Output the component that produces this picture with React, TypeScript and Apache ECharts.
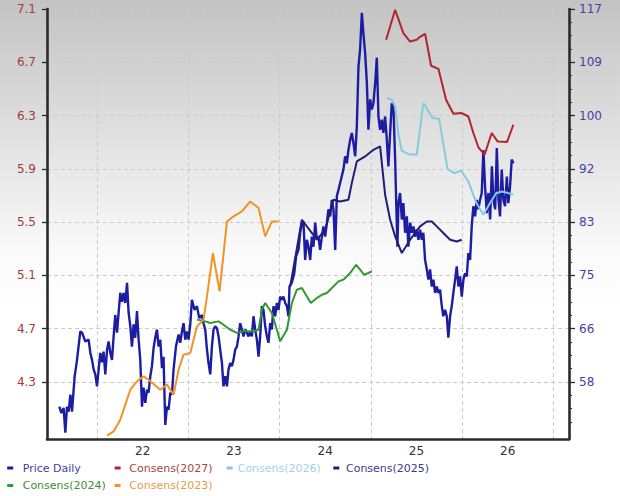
import React, { useEffect, useRef } from "react";
import * as echarts from "echarts";

// ---------- data ----------
const PRICE_DATES = [
  2021.087, 2021.109, 2021.134, 2021.153, 2021.171, 2021.189, 2021.208, 2021.226, 2021.255, 2021.281,
  2021.317, 2021.336, 2021.372, 2021.408, 2021.427, 2021.445, 2021.463, 2021.481, 2021.5, 2021.518,
  2021.536, 2021.555, 2021.572, 2021.591, 2021.61, 2021.627, 2021.646, 2021.664, 2021.682, 2021.7,
  2021.719, 2021.737, 2021.755, 2021.774, 2021.791, 2021.81, 2021.829, 2021.846, 2021.865, 2021.883,
  2021.901, 2021.919, 2021.938, 2021.956, 2021.974, 2021.993, 2022.01, 2022.029, 2022.048, 2022.065,
  2022.084, 2022.102, 2022.12, 2022.138, 2022.157, 2022.175, 2022.193, 2022.212, 2022.229, 2022.248,
  2022.267, 2022.284, 2022.303, 2022.321, 2022.339, 2022.365, 2022.394, 2022.412, 2022.431, 2022.448,
  2022.467, 2022.486, 2022.503, 2022.522, 2022.54, 2022.569, 2022.595, 2022.62, 2022.65, 2022.667,
  2022.686, 2022.705, 2022.722, 2022.741, 2022.759, 2022.777, 2022.795, 2022.814, 2022.832, 2022.85,
  2022.869, 2022.886, 2022.905, 2022.924, 2022.941, 2022.96, 2022.978, 2022.996, 2023.014, 2023.033,
  2023.051, 2023.069, 2023.088, 2023.105, 2023.124, 2023.143, 2023.16, 2023.179, 2023.197, 2023.215,
  2023.233, 2023.252, 2023.27, 2023.288, 2023.307, 2023.324, 2023.343, 2023.362, 2023.379, 2023.398,
  2023.416, 2023.434, 2023.452, 2023.471, 2023.489, 2023.507, 2023.526, 2023.543, 2023.562, 2023.581,
  2023.598, 2023.609, 2023.635, 2023.661, 2023.682, 2023.708, 2023.726, 2023.745, 2023.762, 2023.781,
  2023.8, 2023.817, 2023.836, 2023.854, 2023.872, 2023.891, 2023.909, 2023.927, 2023.945, 2023.964,
  2023.981, 2024.0, 2024.019, 2024.036, 2024.055, 2024.073, 2024.091, 2024.11, 2024.128, 2024.146,
  2024.2, 2024.219, 2024.238, 2024.255, 2024.274, 2024.292, 2024.31, 2024.329, 2024.347, 2024.365,
  2024.383, 2024.402, 2024.419, 2024.438, 2024.457, 2024.474, 2024.493, 2024.511, 2024.529, 2024.548,
  2024.566, 2024.584, 2024.602, 2024.621, 2024.638, 2024.657, 2024.676, 2024.693, 2024.712, 2024.73,
  2024.748, 2024.767, 2024.778, 2024.792, 2024.803, 2024.821, 2024.84, 2024.857, 2024.876, 2024.895,
  2024.912, 2024.931, 2024.95, 2024.968, 2024.985, 2025.004, 2025.022, 2025.04, 2025.059, 2025.076,
  2025.095, 2025.114, 2025.131, 2025.15, 2025.168, 2025.186, 2025.205, 2025.223, 2025.241, 2025.259,
  2025.278, 2025.295, 2025.314, 2025.333, 2025.35, 2025.369, 2025.387, 2025.405, 2025.424, 2025.442,
  2025.46, 2025.478, 2025.497, 2025.515, 2025.533, 2025.552, 2025.569, 2025.588, 2025.606, 2025.624,
  2025.643, 2025.661, 2025.679, 2025.697, 2025.716, 2025.734, 2025.752, 2025.771, 2025.789, 2025.808,
  2025.827, 2025.844, 2025.863, 2025.881, 2025.899, 2025.916, 2025.935, 2025.953, 2025.971, 2025.991,
  2026.007, 2026.026, 2026.044, 2026.063,
];
const PRICE_VALUES = [
  54.1, 53.1, 53.9, 50.0, 54.1, 53.3, 56.0, 53.3, 58.9, 61.5,
  66.0, 65.8, 64.4, 64.7, 62.6, 61.5, 60.0, 59.2, 57.3, 60.0,
  62.6, 61.1, 62.8, 59.2, 63.1, 64.4, 62.6, 61.5, 65.2, 68.6,
  65.8, 69.0, 72.1, 70.7, 72.1, 70.5, 73.7, 69.0, 66.8, 63.6,
  67.1, 65.0, 69.2, 64.7, 61.5, 54.1, 57.1, 54.7, 56.8, 56.3,
  58.9, 60.5, 63.4, 65.0, 66.3, 63.6, 64.7, 60.2, 62.0, 51.2,
  54.1, 53.6, 56.3, 56.0, 60.0, 63.6, 65.5, 64.2, 66.0, 67.3,
  64.7, 66.0, 64.7, 67.1, 71.0, 69.4, 70.0, 68.1, 68.6, 67.3,
  66.3, 63.1, 61.0, 59.2, 63.6, 66.3, 66.8, 66.5, 65.2, 63.1,
  61.0, 57.3, 58.9, 57.3, 60.0, 61.0, 60.5, 61.5, 63.1, 63.6,
  65.2, 67.3, 66.3, 65.2, 66.3, 65.8, 65.2, 66.0, 65.2, 68.4,
  66.3, 64.7, 62.0, 65.2, 70.0, 69.4, 66.8, 65.2, 64.2, 67.3,
  66.3, 70.0, 68.4, 70.5, 69.4, 71.5, 71.0, 71.5, 70.5, 70.0,
  68.4, 73.1, 73.7, 75.2, 77.9, 78.9, 81.6, 83.2, 83.4, 77.3,
  80.5, 79.4, 77.3, 81.0, 79.4, 83.2, 80.5, 81.0, 78.9, 81.0,
  82.6, 81.0, 83.2, 85.3, 84.2, 86.8, 85.3, 78.9, 87.4, 88.4,
  91.6, 93.7, 92.6, 94.7, 96.3, 97.4, 95.8, 93.7, 98.4, 107.9,
  110.6, 116.4, 113.2, 110.0, 105.3, 97.9, 102.7, 101.1, 102.1, 105.3,
  109.3, 100.0, 97.9, 99.5, 97.4, 100.0, 96.3, 92.1, 97.4, 102.1,
  101.6, 93.2, 86.8, 79.4, 86.3, 87.9, 83.7, 86.3, 81.6, 84.2,
  79.4, 83.2, 81.6, 82.6, 81.0, 82.1, 80.5, 82.1, 80.5, 81.6,
  77.3, 75.8, 74.2, 75.8, 73.1, 74.2, 72.1, 73.1, 72.1, 72.6,
  70.0, 68.4, 69.4, 68.4, 65.0, 68.4, 70.0, 72.1, 74.2, 76.3,
  73.1, 74.7, 71.5, 74.2, 75.2, 74.7, 78.4, 77.3, 82.6, 85.8,
  84.2, 86.8, 85.3, 86.8, 87.9, 94.7, 88.9, 84.7, 87.9, 83.7,
  92.1, 86.8, 85.3, 95.0, 86.8, 84.2, 91.6, 86.8, 85.8, 90.5,
  86.3, 88.9, 93.2, 92.6,
];

const C2027_DATES = [2024.668, 2024.767, 2024.857, 2024.931, 2025.004, 2025.04, 2025.095, 2025.161, 2025.241, 2025.325, 2025.405, 2025.497, 2025.569, 2025.624, 2025.679, 2025.747, 2025.825, 2025.889, 2025.993, 2026.062];
const C2027_VALUES = [6.869, 7.094, 6.919, 6.856, 6.869, 6.891, 6.914, 6.674, 6.651, 6.419, 6.314, 6.319, 6.293, 6.169, 6.062, 6.006, 6.169, 6.106, 6.101, 6.231];

const C2026_DATES = [2024.676, 2024.73, 2024.767, 2024.803, 2024.84, 2024.912, 2025.004, 2025.076, 2025.177, 2025.248, 2025.341, 2025.413, 2025.489, 2025.566, 2025.654, 2025.734, 2025.807, 2025.873, 2025.935, 2026.007, 2026.062];
const C2026_VALUES = [6.431, 6.419, 6.368, 6.156, 6.036, 6.01, 6.006, 6.394, 6.281, 6.276, 5.901, 5.868, 5.886, 5.811, 5.649, 5.556, 5.643, 5.717, 5.73, 5.718, 5.706];

const C2025_DATES = [2023.617, 2023.745, 2023.909, 2024.0, 2024.091, 2024.164, 2024.255, 2024.292, 2024.347, 2024.438, 2024.529, 2024.602, 2024.657, 2024.712, 2024.767, 2024.84, 2024.931, 2025.04, 2025.114, 2025.168, 2025.223, 2025.295, 2025.369, 2025.442, 2025.497];
const C2025_VALUES = [5.017, 5.518, 5.368, 5.443, 5.668, 5.655, 5.668, 5.793, 5.956, 5.993, 6.043, 6.068, 5.706, 5.518, 5.393, 5.268, 5.368, 5.468, 5.505, 5.505, 5.468, 5.418, 5.368, 5.355, 5.368];

const C2024_DATES = [2022.595, 2022.686, 2022.741, 2022.832, 2022.886, 2022.96, 2023.033, 2023.105, 2023.215, 2023.27, 2023.307, 2023.343, 2023.416, 2023.471, 2023.507, 2023.581, 2023.635, 2023.69, 2023.745, 2023.8, 2023.843, 2023.909, 2023.964, 2024.019, 2024.073, 2024.146, 2024.2, 2024.274, 2024.339, 2024.383, 2024.427, 2024.474, 2024.511];
const C2024_VALUES = [4.768, 4.755, 4.743, 4.755, 4.73, 4.692, 4.668, 4.68, 4.68, 4.692, 4.843, 4.893, 4.818, 4.692, 4.605, 4.692, 4.893, 4.993, 5.005, 4.942, 4.893, 4.93, 4.955, 4.968, 5.005, 5.055, 5.068, 5.118, 5.18, 5.143, 5.105, 5.118, 5.13];

const C2023_DATES = [2021.61, 2021.682, 2021.755, 2021.865, 2021.938, 2022.01, 2022.065, 2022.193, 2022.267, 2022.339, 2022.394, 2022.448, 2022.522, 2022.595, 2022.667, 2022.705, 2022.77, 2022.843, 2022.924, 2022.996, 2023.088, 2023.179, 2023.27, 2023.343, 2023.416, 2023.489];
const C2023_VALUES = [3.897, 3.929, 4.017, 4.242, 4.305, 4.342, 4.317, 4.242, 4.28, 4.205, 4.392, 4.505, 4.518, 4.717, 4.768, 4.942, 5.268, 4.98, 5.505, 5.543, 5.58, 5.655, 5.606, 5.393, 5.505, 5.505];

// axes
const LEFT_TICKS = [4.3, 4.7, 5.1, 5.5, 5.9, 6.3, 6.7, 7.1];
const YEAR_LABELS = [2022, 2023, 2024, 2025, 2026];
const YEAR_GRID = [2021.5, 2022.5, 2023.5, 2024.5, 2025.5, 2026.5];
const LEFT_MIN = 3.872;
const LEFT_MAX = 7.1;
const X_MIN = 2020.952;
const X_MAX = 2026.672;
// price axis is a linear re-scaling of the EPS axis: 4.3 -> 58, 7.1 -> 117
const PRICE_AT_LOW = 58;
const PRICE_AT_HIGH = 117;

const toPrice = (v: number) =>
  PRICE_AT_LOW + ((v - LEFT_TICKS[0]) * (PRICE_AT_HIGH - PRICE_AT_LOW)) / (LEFT_TICKS[LEFT_TICKS.length - 1] - LEFT_TICKS[0]);

const zip = (xs: number[], ys: number[]) => xs.map((x, i) => [x, ys[i]]);

const FONT = "DejaVu Sans";

const SERIES = [
  { name: "Price Daily", dates: PRICE_DATES, values: PRICE_VALUES, color: "#1d1da3", text: "#3f3f9f", width: 2.4, axis: 1 },
  { name: "Consens(2027)", dates: C2027_DATES, values: C2027_VALUES, color: "#b3252a", text: "#a84444", width: 2, axis: 0 },
  { name: "Consens(2026)", dates: C2026_DATES, values: C2026_VALUES, color: "#86cadc", text: "#a3d3e3", width: 2, axis: 0 },
  { name: "Consens(2025)", dates: C2025_DATES, values: C2025_VALUES, color: "#1f1f78", text: "#3c3c8c", width: 2, axis: 0 },
  { name: "Consens(2024)", dates: C2024_DATES, values: C2024_VALUES, color: "#2f9a2f", text: "#3a8f3a", width: 2, axis: 0 },
  { name: "Consens(2023)", dates: C2023_DATES, values: C2023_VALUES, color: "#f29227", text: "#e99a45", width: 2, axis: 0 },
];

// legend placement: [left, top, itemWidth]
const LEGEND_POS: [number, number, number][] = [
  [7.2, 461, 15],
  [114.6, 461, 13.4],
  [226.7, 461, 6],
  [333.3, 461, 9.4],
  [7.2, 478.5, 15],
  [114.6, 478.5, 13.4],
];

export default function App() {
  const ref = useRef<HTMLDivElement>(null);

  useEffect(() => {
    if (!ref.current) return;
    document.body.style.margin = "0";
    const chart = echarts.init(ref.current, undefined, { renderer: "svg" });

    const minorLeft: number[] = [];
    for (let k = -3; k <= 28; k++) {
      if (k % 4 === 0) continue;
      minorLeft.push(LEFT_TICKS[0] + k * 0.1);
    }
    const minorPrice = minorLeft.map(toPrice);
    const majorPrice = LEFT_TICKS.map(toPrice);

    const axisLine = { show: true, lineStyle: { color: "#2b2b2b", width: 2.6 } };
    const gridLine = { show: true, lineStyle: { color: "#cbcbcb", type: [4, 3] as any, width: 1 } };

    const option: any = {
      animation: false,
      backgroundColor: {
        type: "linear",
        x: 0, y: 0, x2: 0, y2: 1,
        colorStops: [
          { offset: 0, color: "#c3c3c3" },
          { offset: 0.25, color: "#dedede" },
          { offset: 0.5, color: "#f9f9f9" },
          { offset: 0.62, color: "#ffffff" },
          { offset: 1, color: "#ffffff" },
        ],
      },
      grid: { left: 47, right: 51, top: 9, bottom: 57, containLabel: false, outerBoundsMode: "none" },
      xAxis: {
        type: "value",
        min: X_MIN,
        max: X_MAX,
        axisLine,
        axisTick: { show: false, customValues: YEAR_GRID },
        splitLine: gridLine,
        axisLabel: {
          customValues: YEAR_LABELS,
          formatter: (v: number) => String(Math.round(v)).slice(2),
          color: "#333333",
          fontSize: 12,
          fontFamily: FONT,
          margin: 6,
        },
      },
      yAxis: [
        {
          type: "value",
          position: "left",
          min: LEFT_MIN,
          max: LEFT_MAX,
          axisLine,
          axisTick: { show: true, length: 5, customValues: LEFT_TICKS, lineStyle: { color: "#2b2b2b", width: 1.3 } },
          splitLine: gridLine,
          axisLabel: {
            customValues: LEFT_TICKS,
            formatter: (v: number) => v.toFixed(1),
            color: "#a33a3f",
            fontSize: 12,
            fontFamily: FONT,
            margin: 11,
          },
        },
        {
          type: "value",
          position: "right",
          min: toPrice(LEFT_MIN),
          max: toPrice(LEFT_MAX),
          axisLine,
          axisTick: { show: true, length: 6, customValues: majorPrice, lineStyle: { color: "#2b2b2b", width: 1.3 } },
          splitLine: { show: false },
          axisLabel: {
            customValues: majorPrice,
            formatter: (v: number) => String(Math.round(v)),
            color: "#43439c",
            fontSize: 12,
            fontFamily: FONT,
            margin: 10,
          },
        },
        {
          type: "value",
          position: "right",
          min: toPrice(LEFT_MIN),
          max: toPrice(LEFT_MAX),
          axisLine: { show: false },
          axisTick: { show: true, length: 3, customValues: minorPrice, lineStyle: { color: "#2b2b2b", width: 1 } },
          splitLine: { show: false },
          axisLabel: { show: false },
        },
      ],
      legend: SERIES.map((s, i) => ({
        show: true,
        left: LEGEND_POS[i][0],
        top: LEGEND_POS[i][1],
        padding: 0,
        itemWidth: LEGEND_POS[i][2],
        itemHeight: 3,
        icon: "path://M0 0h2v1h-2z",
        symbolKeepAspect: true,
        selectedMode: false,
        itemStyle: { borderWidth: 0 },
        textStyle: { fontSize: 11, fontFamily: FONT, lineHeight: 14 },
        data: [{ name: s.name, textStyle: { color: s.text } }],
      })),
      series: SERIES.map((s) => ({
        name: s.name,
        type: "line",
        xAxisIndex: 0,
        yAxisIndex: s.axis,
        data: zip(s.dates, s.values),
        showSymbol: false,
        symbol: "none",
        color: s.color,
        itemStyle: { color: s.color },
        lineStyle: { color: s.color, width: s.width },
        emphasis: { disabled: true },
      })),
    };

    chart.setOption(option);
    return () => chart.dispose();
  }, []);

  return (
    <div
      ref={ref}
      style={{ position: "fixed", left: 0, top: 0, width: 620, height: 496 }}
    />
  );
}
